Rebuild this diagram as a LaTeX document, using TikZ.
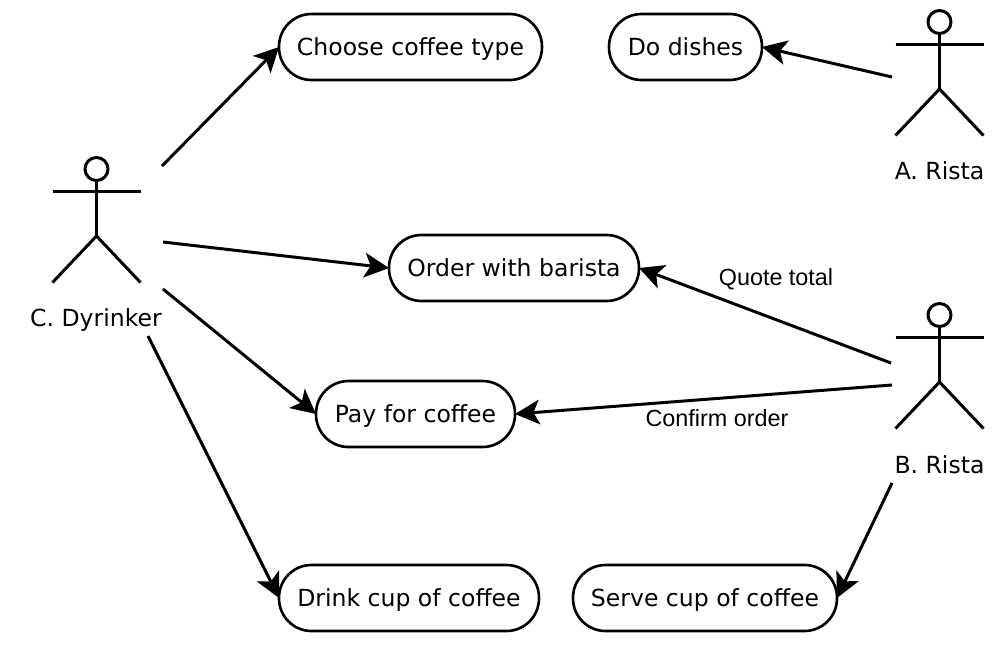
\documentclass[tikz,border=0pt]{standalone}
\usepackage{fontspec}
\setmainfont{DejaVu Sans}
\newfontfamily\labelfont{Liberation Sans}
\usetikzlibrary{arrows.meta}
\tikzset{
  usecase/.style={draw, line width=1.5pt, rectangle, rounded corners=0.65cm, inner sep=0pt, outer sep=0pt,
    minimum height=1.32cm, text height=12.6pt, text depth=3pt, font=\fontsize{13.4}{16}\selectfont},
  actorline/.style={line width=1.7pt},
  assoc/.style={line width=1.7pt, -{Stealth[length=14pt,width=14pt,inset=3.5pt]}},
  actorname/.style={inner sep=0pt, font=\fontsize{13.4}{16}\selectfont},
  msg/.style={inner sep=0pt, font=\labelfont\fontsize{13.3}{16}\selectfont}
}
\begin{document}
\begin{tikzpicture}[x=0.02cm,y=-0.02cm]% ------ one px = one unit -----------------
    \useasboundingbox (0,0) rectangle (1005,660);
    % use cases
    \node [usecase, minimum width=5.26cm] (choose) at (410.5,47) {Choose coffee type};
    \node [usecase, minimum width=3.06cm] (dishes) at (685.5,47) {Do dishes};
    \node [usecase, minimum width=5cm] (order) at (514,268) {Order with barista};
    \node [usecase, minimum width=3.98cm] (pay) at (415.5,414) {Pay for coffee};
    \node [usecase, minimum width=5.2cm] (drink) at (409,598) {Drink cup of coffee};
    \node [usecase, minimum width=5.28cm] (serve) at (705,598) {Serve cup of coffee};
    % actors
    \foreach \ax/\ay in {96.5/169, 939.5/22, 939.5/315} {
      \draw [actorline] (\ax,\ay) circle (11.5);
      \draw [actorline] (\ax,\ay+11.5) -- (\ax,\ay+67);
      \draw [actorline] (\ax-44,\ay+22.5) -- (\ax+44,\ay+22.5);
      \draw [actorline] (\ax-44,\ay+113.5) -- (\ax,\ay+67) -- (\ax+44,\ay+113.5);
    }
    \node [actorname] (dyrinker) at (96,320) {C. Dyrinker};
    \node [actorname] (arista) at (939.5,171) {A. Rista};
    \node [actorname] (brista) at (939.5,465) {B. Rista};
    % free ends next to the actors
    \coordinate (c1) at (162,166);
    \coordinate (c2) at (163,242);
    \coordinate (c3) at (163,289);
    \coordinate (c4) at (148,336);
    \coordinate (a1) at (892,77);
    \coordinate (b1) at (891,363);
    \coordinate (b2) at (892,385);
    \coordinate (b3) at (892,483);
    \draw [assoc] (c1) -- (choose.west);
    \draw [assoc] (c2) -- (order.west);
    \draw [assoc] (c3) -- (pay.west);
    \draw [assoc] (c4) -- (drink.west);
    \draw [assoc] (a1) -- (dishes.east);
    \draw [assoc] (b1) -- (order.east);
    \draw [assoc] (b2) -- (pay.east);
    \draw [assoc] (b3) -- (serve.east);
    \node [msg] (quote) at (776,279) {Quote total};
    \node [msg] (confirm) at (717,418) {Confirm order};
\end{tikzpicture}
\end{document}
